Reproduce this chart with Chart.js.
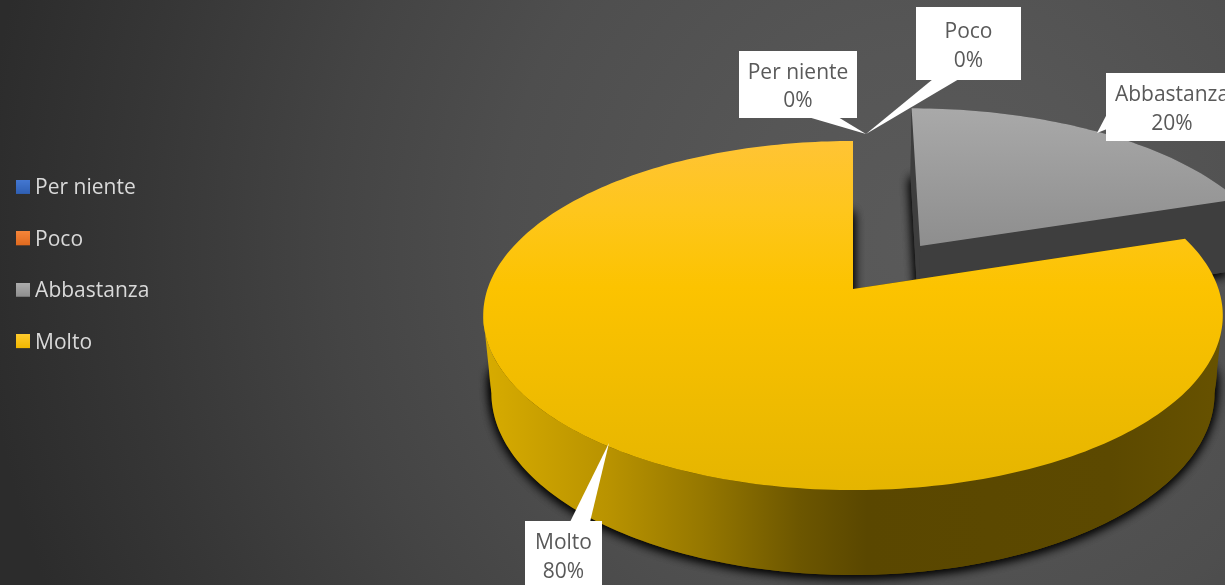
<!DOCTYPE html>
<html>
<head>
<meta charset="utf-8">
<title>Pie 3D</title>
<script src="https://cdn.jsdelivr.net/npm/chart.js@4"></script>
<style>
  html, body { margin: 0; padding: 0; background: #333; overflow: hidden; }
  canvas { display: block; }
</style>
</head>
<body>
<canvas id="pie" width="1225" height="585"></canvas>
<script>
const categories = ["Per niente", "Poco", "Abbastanza", "Molto"];
const values = [0, 0, 20, 80];

const FONT = '"Open Sans", sans-serif';
const FONT_SIZE = 21;
const swatchColors = [
  ["#4478d2", "#2f60b4"],
  ["#f5853a", "#e06a1f"],
  ["#adadad", "#8f8f8f"],
  ["#ffcb2e", "#f2b800"]
];

// Projection of the flat disc into the tilted view: u,v on the unit circle, z 0 = top, 1 = bottom
const view = { cx: 853, A: 365.5, a: 126.6, b: 289, c: 84.6, k: -0.152, m: 0.022 };
function project(u, v, z) {
  const w = 1 + view.k * v + view.m * z;
  return { x: view.cx + view.A * u / w, y: (view.a * v + view.b + view.c * z) / w };
}

// How far a slice is pulled out of the pie, as a share of the radius
const explode = { Abbastanza: 0.325 };

// Callouts: box, then the pointer's base and tip
const callouts = {
  "Per niente": { box: [739, 51, 118, 67], lineY: [71, 99], pointer: [[808, 117], [866, 134], [838, 117]] },
  "Poco": { box: [916, 7, 105, 73], lineY: [30, 59], pointer: [[933, 79], [866, 134], [959, 79]] },
  "Abbastanza": { box: [1106, 73, 125, 68], lineY: [93, 122], pointer: [[1107, 114], [1097, 133], [1107, 129]] },
  "Molto": { box: [525, 521, 77, 70], lineY: [541, 570], pointer: [[570, 522], [609, 443], [590, 522]] }
};

function makeSwatch(pair) {
  // 3px of empty canvas below lifts the square level with the text
  const c = document.createElement("canvas");
  c.width = 14;
  c.height = 17;
  const g = c.getContext("2d");
  const grad = g.createLinearGradient(0, 0, 0, 14);
  grad.addColorStop(0, pair[0]);
  grad.addColorStop(1, pair[1]);
  g.fillStyle = grad;
  g.fillRect(0, 0, 14, 14);
  return c;
}

function vGrad(ctx, y0, stops) {
  const grad = ctx.createLinearGradient(0, y0[0], 0, y0[1]);
  stops.forEach(s => grad.addColorStop(s[0], s[1]));
  return grad;
}

function arcPoints(start, end, off, z) {
  const pts = [];
  const n = Math.max(2, Math.ceil((end - start) / 0.02));
  for (let i = 0; i <= n; i++) {
    const t = start + (end - start) * i / n;
    pts.push(project(off.u + Math.cos(t), off.v + Math.sin(t), z));
  }
  return pts;
}

// Angles of the arc facing the viewer, between the two points where the rim turns back.
// A slice entirely at the back keeps its whole arc.
function frontRange(start, end) {
  if (end > Math.PI && start < 0) {
    const turn = Math.asin(-view.k);
    return [turn, Math.PI - turn];
  }
  return [start, end];
}

function tracePoly(ctx, pts) {
  ctx.beginPath();
  pts.forEach((p, i) => i ? ctx.lineTo(p.x, p.y) : ctx.moveTo(p.x, p.y));
  ctx.closePath();
}

function drawSlice(ctx, arc, name) {
  const start = arc.startAngle, end = arc.endAngle;
  const mid = (start + end) / 2;
  const d = explode[name] || 0;
  const off = { u: Math.cos(mid) * d, v: Math.sin(mid) * d };
  const topArc = arcPoints(start, end, off, 0);
  const botArc = arcPoints(start, end, off, 1);
  const apexTop = project(off.u, off.v, 0);
  const apexBot = project(off.u, off.v, 1);
  const isGrey = name === "Abbastanza";
  const range = frontRange(start, end);

  // drop shadow of the whole solid, twice to get it as heavy as the original
  ctx.save();
  ctx.shadowColor = "rgba(0,0,0,0.95)";
  ctx.shadowBlur = 11;
  ctx.shadowOffsetY = 2;
  ctx.fillStyle = isGrey ? "#3e3e3e" : "#5a4700";
  tracePoly(ctx, botArc.concat([apexBot]));
  ctx.fill();
  ctx.fill();
  if (!isGrey) {
    // higher up the wall, so the shadow also runs along both sides
    tracePoly(ctx, arcPoints(range[0], range[1], off, 0.7));
    ctx.fill();
  }
  ctx.restore();

  // outer wall
  const wall = ctx.createLinearGradient(482, 0, 1222, 0);
  if (isGrey) {
    wall.addColorStop(0, "#3e3e3e");
    wall.addColorStop(1, "#3e3e3e");
  } else {
    wall.addColorStop(0, "#d8ac00");
    wall.addColorStop(0.17, "#b99300");
    wall.addColorStop(0.3, "#957700");
    wall.addColorStop(0.43, "#6c5600");
    wall.addColorStop(0.52, "#5a4700");
    wall.addColorStop(0.85, "#5c4900");
    wall.addColorStop(1, "#675200");
  }
  const wallTop = arcPoints(range[0], range[1], off, 0);
  const wallBot = arcPoints(range[0], range[1], off, 1);
  ctx.fillStyle = wall;
  tracePoly(ctx, wallTop.concat(wallBot.reverse()));
  ctx.fill();

  // cut faces
  ctx.fillStyle = isGrey ? "#3e3e3e" : "#5a4700";
  tracePoly(ctx, [apexTop, topArc[0], botArc[0], apexBot]);
  ctx.fill();
  tracePoly(ctx, [apexTop, topArc[topArc.length - 1], botArc[botArc.length - 1], apexBot]);
  ctx.fill();

  // top face
  ctx.fillStyle = isGrey
    ? vGrad(ctx, [108, 245], [[0, "#a9a9a9"], [1, "#8e8e8e"]])
    : vGrad(ctx, [141, 490], [[0, "#ffc435"], [0.2, "#fec61c"], [0.42, "#fcc300"], [1, "#e5b500"]]);
  tracePoly(ctx, topArc.concat([apexTop]));
  ctx.fill();
}

const pie3d = {
  id: "pie3d",
  beforeDraw(chart) {
    const ctx = chart.ctx;
    const bg = ctx.createRadialGradient(930, 240, 0, 930, 240, 950);
    bg.addColorStop(0, "#5a5a5a");
    bg.addColorStop(0.2, "#565656");
    bg.addColorStop(0.45, "#4e4e4e");
    bg.addColorStop(0.63, "#444444");
    bg.addColorStop(0.84, "#363636");
    bg.addColorStop(1, "#2c2c2c");
    ctx.fillStyle = bg;
    ctx.fillRect(0, 0, chart.width, chart.height);
  },
  beforeDatasetDraw(chart) {
    const ctx = chart.ctx;
    const arcs = chart.getDatasetMeta(0).data;
    // the pulled-out slice sits behind, so it goes first
    [2, 3].forEach(i => {
      if (values[i] > 0) drawSlice(ctx, arcs[i], categories[i]);
    });
    return false;
  },
  afterDatasetsDraw(chart) {
    const ctx = chart.ctx;
    const total = values.reduce((s, v) => s + v, 0);
    categories.forEach((name, i) => {
      const c = callouts[name];
      ctx.fillStyle = "#ffffff";
      ctx.fillRect(c.box[0], c.box[1], c.box[2], c.box[3]);
      ctx.beginPath();
      c.pointer.forEach((p, j) => j ? ctx.lineTo(p[0], p[1]) : ctx.moveTo(p[0], p[1]));
      ctx.closePath();
      ctx.fill();
      ctx.fillStyle = "#595959";
      ctx.font = FONT_SIZE + "px " + FONT;
      ctx.textAlign = "center";
      ctx.textBaseline = "middle";
      const cx = name === "Abbastanza" ? 1172 : c.box[0] + c.box[2] / 2;
      ctx.fillText(name, cx, c.lineY[0] + 2);
      ctx.fillText(Math.round(values[i] / total * 100) + "%", cx, c.lineY[1] + 2);
    });
  }
};

new Chart(document.getElementById("pie"), {
  type: "pie",
  data: {
    labels: categories,
    datasets: [{
      data: values,
      backgroundColor: swatchColors.map(p => p[0]),
      borderWidth: 0
    }]
  },
  plugins: [pie3d],
  options: {
    responsive: false,
    animation: false,
    layout: { padding: { left: -10, bottom: 54 } },
    plugins: {
      tooltip: { enabled: false },
      legend: {
        position: "left",
        labels: {
          color: "#d9d9d9",
          font: { family: FONT, size: FONT_SIZE },
          padding: 30.4,
          boxHeight: 14,
          usePointStyle: true,
          pointStyleWidth: 4.2,
          generateLabels(chart) {
            return categories.map((name, i) => ({
              text: name,
              index: i,
              fontColor: "#d9d9d9",
              pointStyle: makeSwatch(swatchColors[i]),
              lineWidth: 0
            }));
          }
        }
      }
    }
  }
});
</script>
</body>
</html>
